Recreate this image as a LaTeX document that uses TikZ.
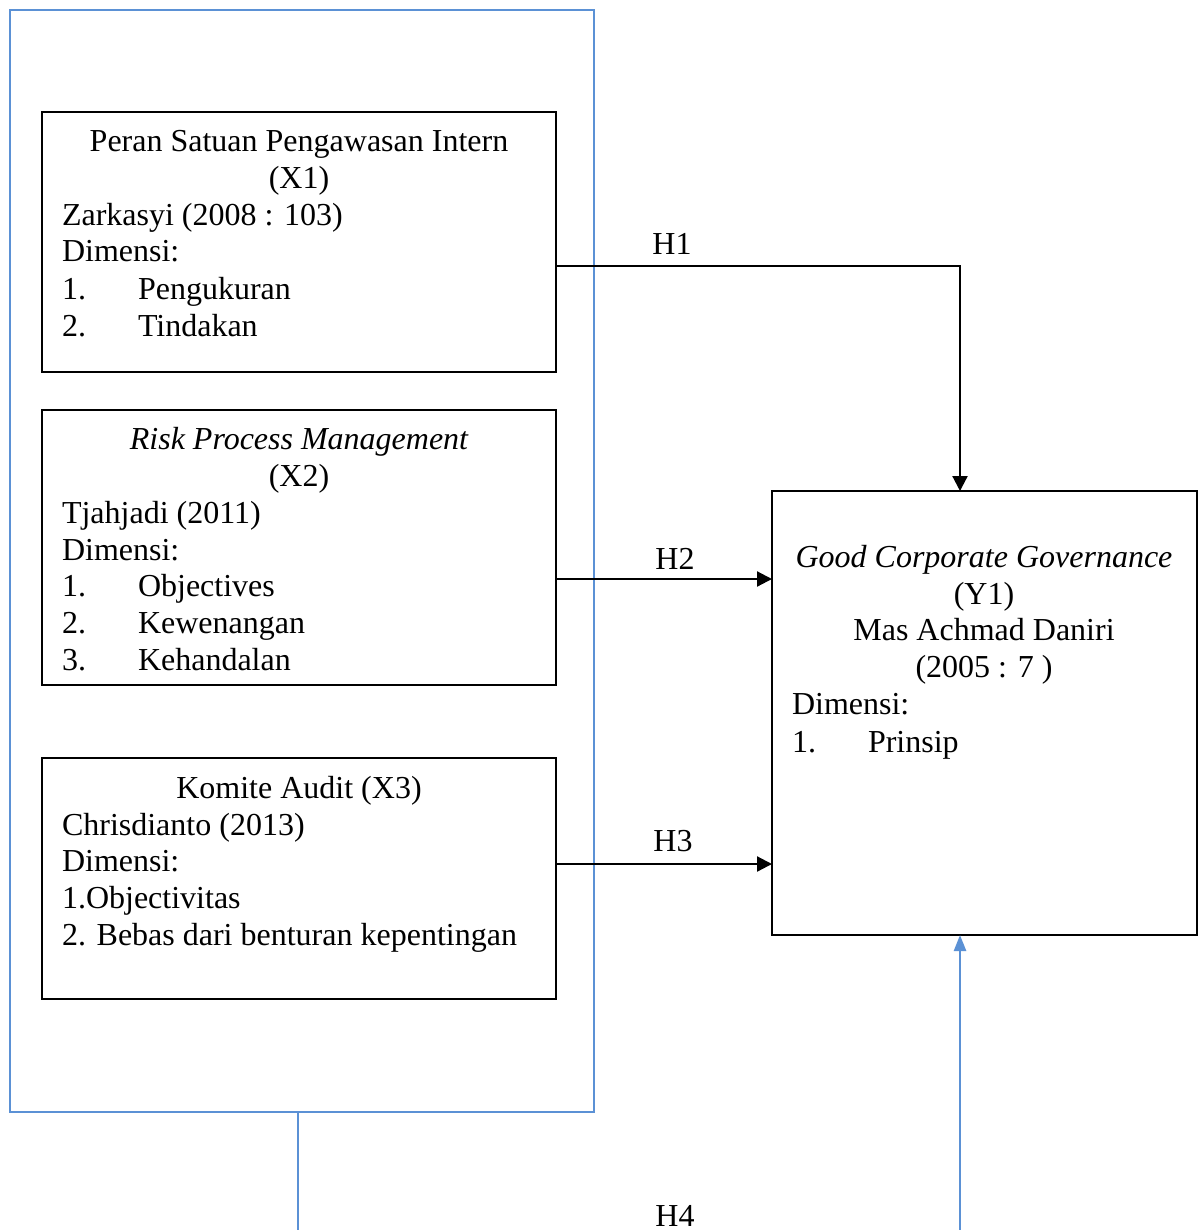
\documentclass[tikz,border=0pt]{standalone}
\usepackage{fontspec}
\setmainfont{Liberation Serif}
\usetikzlibrary{arrows.meta}
\definecolor{grpblue}{RGB}{91,145,213}

\begin{document}
\begin{tikzpicture}[x=.5pt,y=-.5pt,
  box/.style={draw=black,line width=1pt,inner sep=0pt,outer sep=0pt},
  grpbox/.style={draw=grpblue,line width=1.25pt,inner sep=0pt,outer sep=0pt},
  txt/.style={inner sep=0pt,outer sep=0pt,anchor=base west,font=\fontsize{16}{18.5}\selectfont},
  ctxt/.style={txt,anchor=base},
  link/.style={draw=black,line width=1.1pt,-{Triangle[length=7.5pt,width=7.5pt]}},
  bluelink/.style={draw=grpblue,line width=1.25pt}]
\path[use as bounding box] (0,0) rectangle (1203,1230);
\path[fill=white,draw=none] (0,0) rectangle (1203,1230);
% group frame round X1..X3
\node[grpbox,minimum width=292pt,minimum height=551pt] (grp) at (302,561) {};
% boxes
\node[box,minimum width=257pt,minimum height=130pt] (x1) at (299,242) {};
\node[box,minimum width=257pt,minimum height=137.5pt] (x2) at (299,547.5) {};
\node[box,minimum width=257pt,minimum height=120.5pt] (x3) at (299,878.5) {};
\node[box,minimum width=212.5pt,minimum height=222pt] (y1) at (984.5,713) {};
% X1
\node[ctxt] (x1a) at (299,152) {Peran Satuan Pengawasan Intern};
\node[ctxt] (x1b) at (299,189) {(X1)};
\node[txt] (x1c) at (62,226) {Zarkasyi (2008 : 103)};
\node[txt] (x1d) at (62,262) {Dimensi:};
\node[txt] (x1e) at (62,299) {1.};
\node[txt] (x1f) at (138,299) {Pengukuran};
\node[txt] (x1g) at (62,336) {2.};
\node[txt] (x1h) at (138,336) {Tindakan};
% X2
\node[ctxt] (x2a) at (299,449) {\itshape Risk Process Management};
\node[ctxt] (x2b) at (299,486) {(X2)};
\node[txt] (x2c) at (62,523) {Tjahjadi (2011)};
\node[txt] (x2d) at (62,560) {Dimensi:};
\node[txt] (x2e) at (62,596) {1.};
\node[txt] (x2f) at (138,596) {Objectives};
\node[txt] (x2g) at (62,633) {2.};
\node[txt] (x2h) at (138,633) {Kewenangan};
\node[txt] (x2i) at (62,670) {3.};
\node[txt] (x2j) at (138,670) {Kehandalan};
% X3
\node[ctxt] (x3a) at (299,798) {Komite Audit (X3)};
\node[txt] (x3b) at (62,835) {Chrisdianto (2013)};
\node[txt] (x3c) at (62,871) {Dimensi:};
\node[txt] (x3d) at (62,908) {1.Objectivitas};
\node[txt] (x3e) at (62,945) {2. Bebas dari benturan kepentingan};
% Y1
\node[ctxt] (y1a) at (984,567) {\itshape Good Corporate Governance};
\node[ctxt] (y1b) at (984,604) {(Y1)};
\node[ctxt] (y1c) at (984,640) {Mas Achmad Daniri};
\node[ctxt] (y1d) at (984,677) {(2005 : 7 )};
\node[txt] (y1e) at (792,714) {Dimensi:};
\node[txt] (y1f) at (792,752) {1.};
\node[txt] (y1g) at (868,752) {Prinsip};
% hypotheses
\draw[link] ([yshift=-12pt]x1.east) -| ([xshift=-12.25pt]y1.north);
\draw[link] ([yshift=-15.75pt]x2.east) -- ([yshift=-15.75pt]x2.east -| y1.west);
\draw[link] ([yshift=7.25pt]x3.east) -- ([yshift=7.25pt]x3.east -| y1.west);
\coordinate (h4a) at (298,1230);
\coordinate (h4b) at (960,1230);
\draw[bluelink] (grp.south -| h4a) -- (h4a);
\draw[bluelink,-{Triangle[length=8pt,width=6pt]}] (h4b) -- (h4b |- y1.south);
\node[ctxt] (h1) at (672,255) {H1};
\node[ctxt] (h2) at (675,569) {H2};
\node[ctxt] (h3) at (673,851) {H3};
\node[ctxt] (h4) at (675,1226) {H4};
\end{tikzpicture}
\end{document}
